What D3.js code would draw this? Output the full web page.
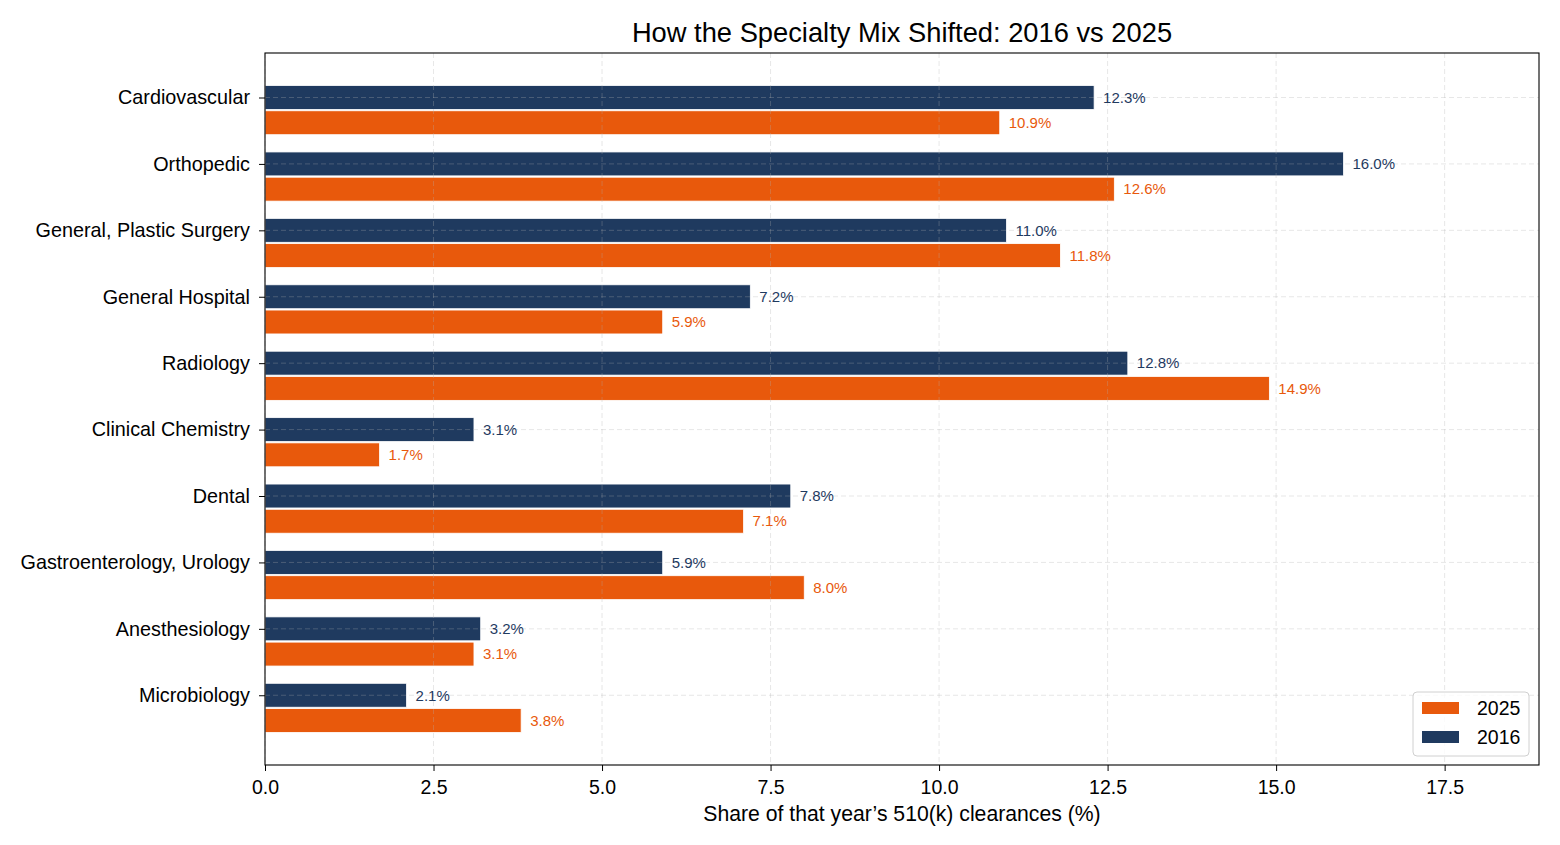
<!DOCTYPE html>
<html>
<head>
<meta charset="utf-8">
<script src="https://cdn.jsdelivr.net/npm/d3@7"></script>
<style>
  html, body { margin: 0; padding: 0; background: #fff; }
  svg { display: block; font-family: "Liberation Sans", Arial, Helvetica, sans-serif; }
</style>
</head>
<body>
<svg id="chart" width="1560" height="845"></svg>
<script>
const categories = ["Cardiovascular", "Orthopedic", "General, Plastic Surgery", "General Hospital", "Radiology", "Clinical Chemistry", "Dental", "Gastroenterology, Urology", "Anesthesiology", "Microbiology"];
const values2016 = [12.3, 16.0, 11.0, 7.2, 12.8, 3.1, 7.8, 5.9, 3.2, 2.1];
const values2025 = [10.9, 12.6, 11.8, 5.9, 14.9, 1.7, 7.1, 8.0, 3.1, 3.8];
const xTicks = [0, 2.5, 5, 7.5, 10, 12.5, 15, 17.5];
const seriesNames = ["2025", "2016"];
const colors = { "2025": "#E8590C", "2016": "#1F3A5F" };

(function () {
const svg = d3.select("#chart");
const pL = 265, pR = 1539, pT = 53, pB = 765;

const x = d3.scaleLinear().domain([0, 18.9]).range([pL, pR]);
const y = d3.scaleLinear().domain([-0.67, 10.05]).range([pT, pB]);
const barH = 0.36;
const offset2025 = 0.38;

// bars
const g = svg.append("g");
categories.forEach((c, i) => {
  g.append("rect")
    .attr("x", x(0)).attr("y", y(i - barH / 2))
    .attr("width", x(values2016[i]) - x(0)).attr("height", y(barH) - y(0))
    .attr("fill", colors["2016"]).attr("stroke", "#fff").attr("stroke-width", 0.8);
  g.append("rect")
    .attr("x", x(0)).attr("y", y(i + offset2025 - barH / 2))
    .attr("width", x(values2025[i]) - x(0)).attr("height", y(barH) - y(0))
    .attr("fill", colors["2025"]).attr("stroke", "#fff").attr("stroke-width", 0.8);
});

// grid on top
const grid = svg.append("g").attr("stroke", "#b0b0b0").attr("stroke-opacity", 0.3)
  .attr("stroke-dasharray", "5,3").attr("stroke-width", 1);
xTicks.forEach(t => {
  grid.append("line").attr("x1", x(t)).attr("x2", x(t)).attr("y1", pT).attr("y2", pB);
});
categories.forEach((c, i) => {
  grid.append("line").attr("x1", pL).attr("x2", pR).attr("y1", y(i)).attr("y2", y(i));
});

// value labels
categories.forEach((c, i) => {
  svg.append("text").attr("x", x(values2016[i]) + 9).attr("y", y(i)).attr("dy", "0.35em")
    .attr("font-size", 15).attr("fill", colors["2016"]).text(values2016[i].toFixed(1) + "%");
  svg.append("text").attr("x", x(values2025[i]) + 9).attr("y", y(i + offset2025)).attr("dy", "0.35em")
    .attr("font-size", 15).attr("fill", colors["2025"]).text(values2025[i].toFixed(1) + "%");
});

// axes
const xAxis = d3.axisBottom(x).tickValues(xTicks).tickFormat(d3.format(".1f")).tickSize(6).tickPadding(9);
const gx = svg.append("g").attr("transform", `translate(0,${pB})`).call(xAxis);
gx.select(".domain").remove();
gx.selectAll("text").attr("font-size", 19.5).attr("fill", "#000").attr("font-family", "Liberation Sans, Arial, sans-serif");
gx.selectAll("line").attr("stroke", "#000");

const yAxis = d3.axisLeft(y).tickValues(d3.range(categories.length)).tickFormat(i => categories[i]).tickSize(6).tickPadding(9);
const gy = svg.append("g").attr("transform", `translate(${pL},0)`).call(yAxis);
gy.select(".domain").remove();
gy.selectAll("text").attr("font-size", 19.8).attr("fill", "#000").attr("font-family", "Liberation Sans, Arial, sans-serif");
gy.selectAll("line").attr("stroke", "#000");

// frame
svg.append("rect").attr("x", pL).attr("y", pT).attr("width", pR - pL).attr("height", pB - pT)
  .attr("fill", "none").attr("stroke", "#000").attr("stroke-width", 1.1);

// title & label
svg.append("text").attr("x", (pL + pR) / 2 - 0).attr("y", 41.5).attr("text-anchor", "middle")
  .attr("font-size", 27.3).attr("fill", "#000").text("How the Specialty Mix Shifted: 2016 vs 2025");
svg.append("text").attr("x", (pL + pR) / 2) .attr("y", 821).attr("text-anchor", "middle")
  .attr("font-size", 21.2).attr("fill", "#000").text("Share of that year\u2019s 510(k) clearances (%)");

// legend
const lg = svg.append("g");
lg.append("rect").attr("x", 1413).attr("y", 692).attr("width", 116).attr("height", 64).attr("rx", 4)
  .attr("fill", "#fff").attr("fill-opacity", 0.8).attr("stroke", "#d0d0d0");
seriesNames.forEach((s, k) => {
  const yy = 708 + k * 29;
  lg.append("rect").attr("x", 1422).attr("y", yy - 6).attr("width", 37).attr("height", 12).attr("fill", colors[s]);
  lg.append("text").attr("x", 1477).attr("y", yy).attr("dy", "0.35em").attr("font-size", 19.5).attr("fill", "#000").text(s);
});
})();
</script>
</body>
</html>
